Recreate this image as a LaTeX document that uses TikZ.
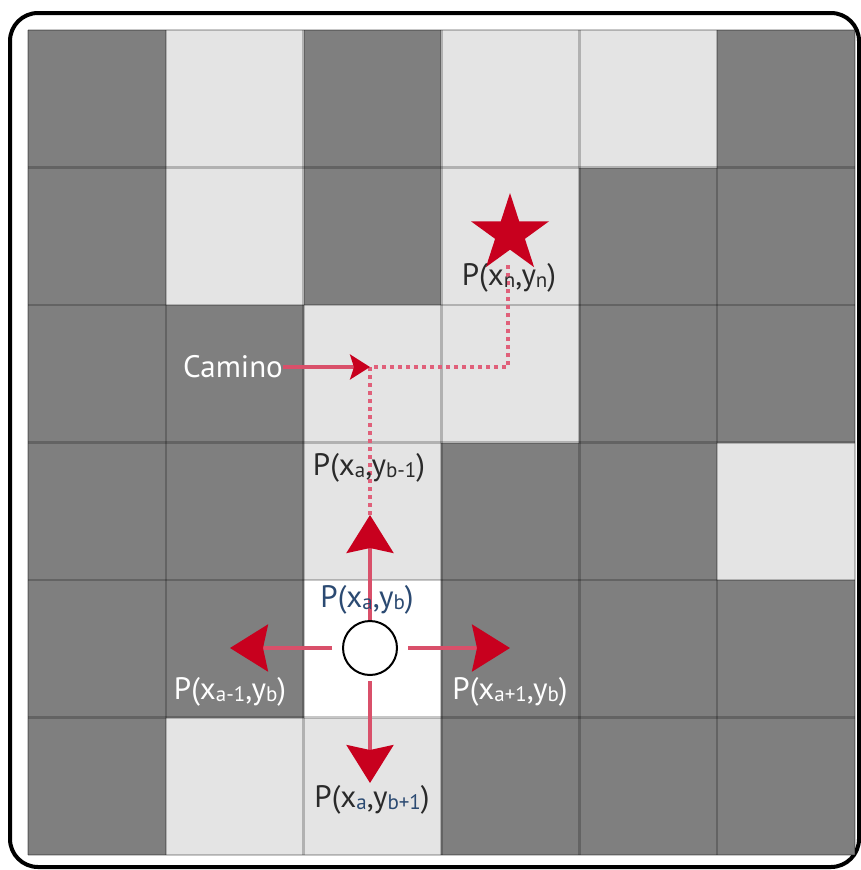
\documentclass[tikz,border=0pt]{standalone}
\usepackage{fontspec}
\setmainfont{PT Sans}
\usetikzlibrary{arrows.meta,shapes.geometric}
\definecolor{cdark}{HTML}{7F7F7F}
\definecolor{clight}{HTML}{E4E4E4}
\definecolor{cred}{HTML}{C8001E}
\definecolor{cshaft}{HTML}{D9506A}
\definecolor{cdot}{HTML}{E0607A}
\definecolor{cblue}{HTML}{2B4A72}
\definecolor{ctext}{HTML}{2A2A2A}
\newcommand{\sbs}[1]{\raisebox{-2pt}{\fontsize{21}{21}\selectfont #1}}
\tikzset{
  lbl/.style={font=\fontsize{31}{33}\selectfont, inner sep=0pt},
  shaft/.style={draw=cshaft, line width=3.5pt, -{Stealth[length=38pt, width=47pt, inset=5pt, color=cred]}},
  dotpath/.style={draw=cdot, line width=3.5pt, dash pattern=on 4pt off 4pt},
  gridline/.style={draw=black, draw opacity=0.22, line width=2.5pt}
}
\begin{document}
\begin{tikzpicture}[x=1pt,y=-1pt]
\useasboundingbox (0,0) rectangle (861,870);
\draw[line width=4pt, rounded corners=28pt] (10,13) rectangle (859,867);
\fill[cdark] (28,30) rectangle (855,855);
\foreach \r/\c in {0/1,0/3,0/4,1/1,1/3,2/2,2/3,3/2,3/5,5/1,5/2}
  \fill[clight] ({28+\c*137.83},{30+\r*137.5}) rectangle ++(137.83,137.5);
\fill[white] ({28+2*137.83},{30+4*137.5}) rectangle ++(137.83,137.5);
\foreach \i in {0,...,6} {
  \draw[gridline] ({28+\i*137.83},30) -- ({28+\i*137.83},855);
  \draw[gridline] (28,{30+\i*137.5}) -- (855,{30+\i*137.5});
}
% path
\coordinate (upTip) at (370,515);
\coordinate (corner1) at (370,367);
\coordinate (corner2) at (508,367);
\coordinate (leftTip) at (230,648);
\coordinate (rightTip) at (510,648);
\coordinate (downTip) at (370,783);
\draw[dotpath] (upTip) -- (corner1) -- (corner2) -- (508,262);
\node[star, star points=5, star point ratio=2.618, minimum size=82pt, inner sep=0pt, fill=cred] (goal) at (510,234) {};
\node[circle, draw=black, line width=2pt, fill=white, minimum size=54pt, inner sep=0pt] (c) at (370,648) {};
\draw[shaft] (c.north) -- (upTip);
\draw[shaft, shorten <=10pt] (c.west) -- (leftTip);
\draw[shaft, shorten <=10pt] (c.east) -- (rightTip);
\draw[shaft, shorten <=5pt] (c.south) -- (downTip);
% Camino
\node[lbl, text=white, anchor=east] (cam) at (283,367) {Camino};
\draw[draw=cshaft, line width=3.5pt, -{Stealth[length=20pt, width=25pt, inset=4pt, color=cred]}] (cam.east) -- (corner1);
% labels
\node[lbl, text=ctext] (ln) at (509,278) {P(x\sbs{n},y\sbs{n})};
\node[lbl, text=ctext] (lup) at (369,468) {P(x\sbs{a},y\sbs{b-1})};
\node[lbl, text=cblue] (lc) at (367,600) {P(x\sbs{a},y\sbs{b})};
\node[lbl, text=white] (ll) at (230,692) {P(x\sbs{a-1},y\sbs{b})};
\node[lbl, text=white] (lr) at (510,692) {P(x\sbs{a+1},y\sbs{b})};
\node[lbl, text=ctext] (ld) at (372,800) {P(x\textcolor{cblue}{\sbs{a}},y\textcolor{cblue}{\sbs{b+1}})};
\end{tikzpicture}
\end{document}
